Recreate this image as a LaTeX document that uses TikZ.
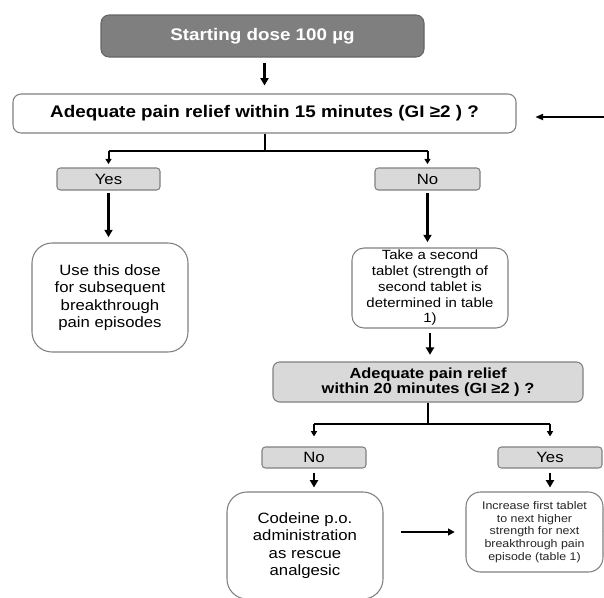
\documentclass[tikz,border=0pt]{standalone}
\usepackage{fontspec}
\setmainfont{Liberation Sans}[FakeStretch=1.12]
\usetikzlibrary{arrows.meta,calc}
\definecolor{boxgray}{HTML}{808080}
\definecolor{darkfill}{HTML}{7F7F7F}
\definecolor{lightfill}{HTML}{D9D9D9}
\begin{document}
\begin{tikzpicture}[x=0.75pt,y=-0.75pt,
  sz/.style 2 args={minimum width=#1*0.75pt, minimum height=#2*0.75pt},
  box/.style={draw=boxgray, line width=0.8pt, align=center, inner sep=0pt, fill=white},
  greybox/.style={box, fill=lightfill},
  arr/.style={line width=2.1pt, -{Triangle[length=5.5pt,width=6pt]}},
  brarr/.style={line width=1.5pt, -{Triangle[length=4pt,width=4.5pt]}},
  plain/.style={line width=1.5pt}
]
\useasboundingbox (0,0) rectangle (604,597);

\node[box, fill=darkfill, draw=darkfill!80!black, rounded corners=6pt, sz={323}{42}, text=white,
      font=\fontsize{12.6}{14}\selectfont\bfseries] (start) at (262.5,36) {Starting dose 100 µg};

\node[box, rounded corners=6pt, sz={503}{39}, font=\fontsize{12.6}{14}\selectfont\bfseries]
  (q1) at (264.5,113.5) {Adequate pain relief within 15 minutes (GI ≥2 ) ?};

\node[greybox, rounded corners=2.5pt, sz={103}{22}, font=\fontsize{11.2}{12}\selectfont] (yes1) at (108.5,179) {Yes};
\node[greybox, rounded corners=2.5pt, sz={105}{22}, font=\fontsize{11.2}{12}\selectfont] (no1) at (427.5,179) {No};

\node[box, rounded corners=15pt, sz={156}{109}, font=\fontsize{11.2}{13}\selectfont]
  (use) at (110,297.5) {Use this dose\\for subsequent\\breakthrough\\pain episodes};

\node[box, rounded corners=9pt, sz={156}{80}, font=\fontsize{10}{11.8}\selectfont]
  (take) at (430,288) {Take a second\\tablet (strength of\\second tablet is\\determined in table\\1)};

\node[greybox, rounded corners=5pt, sz={310}{40}, font=\fontsize{11}{11.6}\selectfont\bfseries]
  (q2) at (428,382) {Adequate pain relief\\within 20 minutes (GI ≥2 ) ?};

\node[greybox, rounded corners=2.5pt, sz={104}{21}, font=\fontsize{11.2}{12}\selectfont] (no2) at (314,457.5) {No};
\node[greybox, rounded corners=2.5pt, sz={104}{21}, font=\fontsize{11.2}{12}\selectfont] (yes2) at (550,457.5) {Yes};

\node[box, rounded corners=15pt, sz={156}{107}, font=\fontsize{11.2}{13}\selectfont]
  (cod) at (305,545.5) {Codeine p.o.\\administration\\as rescue\\analgesic};

\node[box, rounded corners=11pt, sz={137}{80}, font=\fontsize{8.3}{9.6}\selectfont, text=black!85]
  (inc) at (534.5,532) {Increase first tablet\\to next higher\\strength for next\\breakthrough pain\\episode (table 1)};

% connectors
\draw[arr, shorten <=4pt, shorten >=6pt] (start.south -| q1.north) -- (q1.north);

\draw[plain] (q1.south) -- ++(0,17) coordinate (j1);
\draw[plain] (j1 -| yes1.north) -- (j1 -| no1.north);
\draw[brarr, shorten >=2.5pt] (j1 -| yes1.north) -- (yes1.north);
\draw[brarr, shorten >=2.5pt] (j1 -| no1.north) -- (no1.north);

\draw[arr, shorten <=2pt, shorten >=4pt] (yes1.south) -- (yes1.south |- use.north);
\draw[arr, shorten <=2pt, shorten >=4pt] (no1.south) -- (no1.south |- take.north);
\draw[arr, shorten <=3pt, shorten >=5pt] (take.south) -- (take.south |- q2.north);

\draw[plain] (q2.south) -- ++(0,21) coordinate (j2);
\draw[plain] (j2 -| no2.north) -- (j2 -| yes2.north);
\draw[brarr, shorten >=7.5pt] (j2 -| no2.north) -- (no2.north);
\draw[brarr, shorten >=7.5pt] (j2 -| yes2.north) -- (yes2.north);

\draw[arr, shorten <=3pt, shorten >=3pt] (no2.south) -- (no2.south |- cod.north);
\draw[arr, shorten <=3pt, shorten >=3pt] (yes2.south) -- (yes2.south |- inc.north);

\draw[line width=1.8pt, -{Triangle[length=5pt,width=5pt]}, shorten <=13pt, shorten >=8pt] (cod.east |- inc.west) -- (inc.west);

\coordinate (out) at (612,532);
\draw[line width=1.3pt] (inc.east) -- (out);

\coordinate (fb) at (612,117);
\draw[line width=1.5pt, -{Triangle[length=6pt,width=4.5pt]}, shorten >=14pt] (fb) -- (fb -| q1.east);
\end{tikzpicture}
\end{document}
